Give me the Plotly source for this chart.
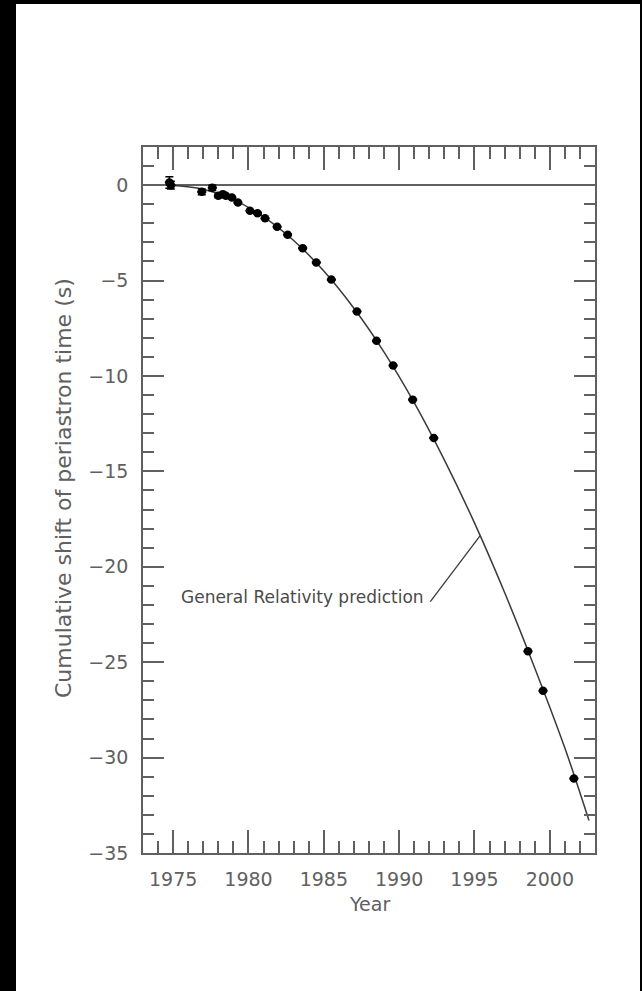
import plotly.graph_objects as go

obs_year = [1974.75, 1974.85, 1976.9, 1977.6, 1978.0, 1978.3, 1978.5, 1978.9, 1979.3,
            1980.1, 1980.6, 1981.1, 1981.9, 1982.6, 1983.6, 1984.5, 1985.5, 1987.2,
            1988.5, 1989.6, 1990.9, 1992.3, 1998.55, 1999.55, 2001.6]
obs_shift = [0.14, 0.0, -0.35, -0.14, -0.56, -0.47, -0.56, -0.65, -0.91,
             -1.34, -1.47, -1.74, -2.18, -2.6, -3.3, -4.05, -4.95, -6.62,
             -8.16, -9.45, -11.24, -13.25, -24.43, -26.5, -31.1]
obs_err = [0.3, 0.2, 0.15, 0.14, 0.1, 0.08, 0.06, 0.05, 0.05,
           0.05, 0.05, 0.04, 0.04, 0.04, 0.04, 0.03, 0.03, 0.03,
           0.03, 0.03, 0.03, 0.03, 0.03, 0.03, 0.03]

# General Relativity prediction curve
gr_year = [1974.8, 1977, 1979, 1981, 1983, 1985, 1987, 1989, 1991, 1993,
           1995, 1997, 1999, 2001, 2002.6]
gr_shift = [0.0, -0.21, -0.76, -1.66, -2.9, -4.5, -6.45, -8.75, -11.4, -14.4,
            -17.7, -21.35, -25.3, -29.5, -33.3]

x_ticks = [1975, 1980, 1985, 1990, 1995, 2000]
y_ticks = [0, -5, -10, -15, -20, -25, -30, -35]

label_text = "General Relativity prediction"
label_pos = (1991.8, -21.57)
pointer = [(1992.07, -21.83), (1995.38, -18.37)]

W, H = 642, 991
L, R, T, B = 143, 595, 147, 853
GRAY = "#606060"
FONT = "DejaVu Sans"

fig = go.Figure()
fig.add_trace(go.Scatter(x=gr_year, y=gr_shift, mode="lines",
                         line=dict(color="#3a3a3a", width=1.5, shape="spline"),
                         hoverinfo="skip", showlegend=False))
fig.add_trace(go.Scatter(x=obs_year, y=obs_shift, mode="markers",
                         marker=dict(symbol="circle", size=8.5, color="black"),
                         error_y=dict(type="data", array=obs_err, color="black",
                                      thickness=1.5, width=4),
                         error_x=dict(type="constant", value=0.3, color="black",
                                      thickness=2, width=0),
                         showlegend=False))

def px_x(p):
    return (p - L) / (R - L)

def px_y(p):
    return (B - p) / (B - T)

shapes = [
    dict(type="rect", xref="paper", yref="paper", x0=px_x(0), x1=px_x(16),
         y0=px_y(H), y1=px_y(0), fillcolor="black", line=dict(width=0), layer="below"),
    dict(type="rect", xref="paper", yref="paper", x0=px_x(0), x1=px_x(W),
         y0=px_y(4), y1=px_y(0), fillcolor="black", line=dict(width=0), layer="below"),
    dict(type="rect", xref="paper", yref="paper", x0=px_x(640), x1=px_x(W),
         y0=px_y(H), y1=px_y(0), fillcolor="black", line=dict(width=0), layer="below"),
    dict(type="line", xref="x", yref="y", x0=pointer[0][0], y0=pointer[0][1],
         x1=pointer[1][0], y1=pointer[1][1], line=dict(color="#3a3a3a", width=1.3)),
]

fig.update_layout(
    width=W, height=H,
    margin=dict(l=L, r=W - R, t=T, b=H - B),
    paper_bgcolor="white", plot_bgcolor="white",
    font=dict(family=FONT, color=GRAY, size=19),
    shapes=shapes,
    annotations=[
        dict(text=label_text, x=label_pos[0], y=label_pos[1], xref="x", yref="y",
             xanchor="right", yanchor="middle", showarrow=False,
             font=dict(family=FONT, size=17, color="#4a4a4a")),
        dict(text="Cumulative shift of periastron time (s)", xref="paper", yref="paper",
             x=px_x(63), y=px_y(488), xanchor="center", yanchor="middle",
             textangle=-90, showarrow=False, font=dict(family=FONT, size=22, color=GRAY)),
        dict(text="Year", xref="paper", yref="paper", x=0.5, y=px_y(904),
             xanchor="center", yanchor="middle", showarrow=False,
             font=dict(family=FONT, size=19, color=GRAY)),
    ],
)

fig.update_xaxes(range=[1973, 2003], tickvals=x_ticks, ticktext=[str(v) for v in x_ticks],
                 ticks="inside", ticklen=23, tickwidth=1.5, tickcolor=GRAY,
                 minor=dict(dtick=1, tick0=1975, ticks="inside", ticklen=12, tickwidth=1.5, tickcolor=GRAY),
                 showline=True, linecolor=GRAY, linewidth=1.5, mirror="ticks",
                 showgrid=False, zeroline=False, tickfont=dict(size=19, color=GRAY),
                 ticklabelstandoff=8)
fig.update_yaxes(range=[-35, 2], tickvals=y_ticks, ticks="inside", ticklen=21, tickwidth=1.5,
                 tickcolor=GRAY,
                 minor=dict(dtick=1, tick0=0, ticks="inside", ticklen=11, tickwidth=1.5, tickcolor=GRAY),
                 showline=True, linecolor=GRAY, linewidth=1.5, mirror="ticks",
                 showgrid=False, zeroline=True, zerolinecolor=GRAY, zerolinewidth=1.5,
                 tickfont=dict(size=19, color=GRAY), ticklabelstandoff=9)

fig.write_html("out.html", config={"displayModeBar": False},
               post_script="document.body.style.margin='0px';")
